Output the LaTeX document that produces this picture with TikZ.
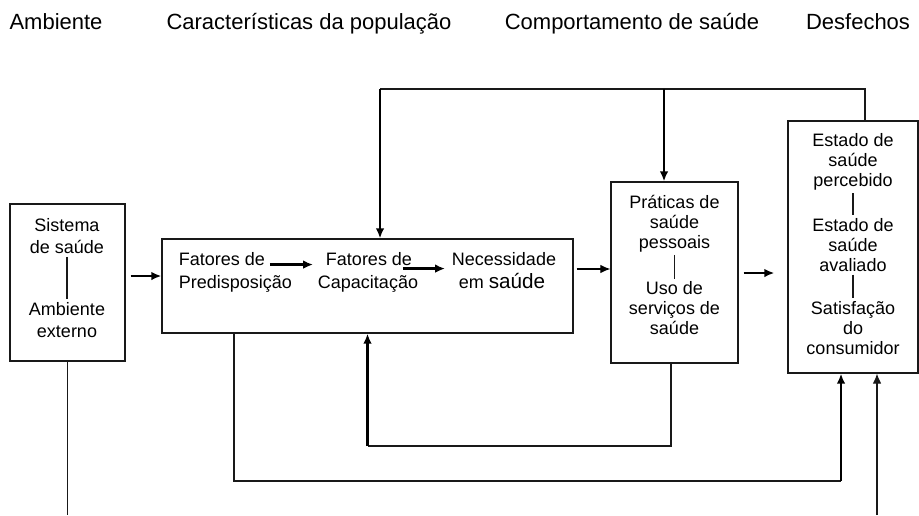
\documentclass[tikz,border=0pt]{standalone}
\usepackage{fontspec}
\setmainfont{Liberation Sans}
\usepackage{tikz}
\usetikzlibrary{arrows.meta, positioning, calc}
\definecolor{mygray}{RGB}{25,25,25}

\begin{document}
\begin{tikzpicture}[x=0.75pt, y=-0.75pt,
    caixa/.style={rectangle, draw=mygray, line width=1pt, inner sep=0pt},
    texto/.style={inner sep=2pt, align=center, font=\fontsize{13.5}{15}\selectfont},
    linha/.style={inner sep=2pt, anchor=base, font=\fontsize{13.5}{16}\selectfont},
    titulo/.style={inner sep=0pt, anchor=base, font=\fontsize{16.5}{20}\selectfont},
    fina/.style={draw=mygray, line width=0.8pt},
    seta/.style={-{Latex[length=7.5pt,width=6.5pt]}, line width=1.8pt},
    setafina/.style={-{Latex[length=7.5pt,width=6.5pt]}, fina}]
    \useasboundingbox (0,0) rectangle (919,515);

    % títulos
    \node[titulo] (t1) at (56,29) {Ambiente};
    \node[titulo] (t2) at (309,29) {Características da população};
    \node[titulo] (t3) at (632,29) {Comportamento de saúde};
    \node[titulo] (t4) at (858,29) {Desfechos};

    % caixas
    \node[caixa, minimum width=86.25pt, minimum height=117.75pt] (A) at (67.5,282.5) {};
    \node[caixa, minimum width=308.25pt, minimum height=70.5pt] (B) at (367.5,286) {};
    \node[caixa, minimum width=95.25pt, minimum height=135.75pt] (C) at (674.5,272.5) {};
    \node[caixa, minimum width=97.5pt, minimum height=189pt] (D) at (853,247) {};

    % ambiente
    \node[texto, font=\fontsize{13.5}{17}\selectfont] (a1) at (67,236) {Sistema\\de saúde};
    \node[texto, font=\fontsize{13.5}{17}\selectfont] (a2) at (67,320) {Ambiente\\externo};
    \draw[fina] (a1) -- (a2);

    % características
    \node[linha, anchor=base west] (f1a) at (176,265) {Fatores de};
    \node[linha, anchor=base west] (f1b) at (176,288) {Predisposição};
    \node[linha] (f2a) at (369,265) {Fatores de};
    \node[linha] (f2b) at (368,288) {Capacitação};
    \node[linha] (f3a) at (504,265) {Necessidade};
    \node[linha] (f3b) at (502,288) {em {\fontsize{15.5}{16}\selectfont saúde}};
    \draw[seta] ($(f1a.east)+(2,6)$) -- ($(f2a.west)+(-10,6)$);
    \draw[seta] ($(f2a.east)+(-12,10)$) -- ($(f3a.west)+(-4,10)$);

    % comportamento
    \node[texto] (c1) at (674.5,223.5) {Práticas de\\saúde\\pessoais};
    \node[texto] (c2) at (674.5,308.5) {Uso de\\serviços de\\saúde};
    \draw[fina] (c1) -- (c2);

    % desfechos
    \node[texto] (d1) at (853,162) {Estado de\\saúde\\percebido};
    \node[texto] (d2) at (853,245) {Estado de\\saúde\\avaliado};
    \node[texto] (d3) at (853,328) {Satisfação\\do\\consumidor};
    \draw[fina] (d1) -- (d2);
    \draw[fina] (d2) -- (d3);

    % setas principais
    \draw[seta] ($(A.east)+(5,-6.5)$) -- ($(B.west)+(0,-10)$);
    \draw[seta, line width=0.9pt] ($(B.east)+(3,-17)$) -- ($(C.west)+(0,-3.5)$);
    \draw[seta] ($(C.east)+(5,0.5)$) -- ($(D.west)+(-13,26)$);

    % retorno superior
    \coordinate (topo) at (380,89);
    \coordinate (ramo) at (664,89);
    \draw[fina] ($(D.north)+(12,0)$) |- (topo);
    \draw[seta] (topo) -- (B.north -| topo);
    \draw[seta] (ramo) -- (ramo |- C.north);

    % retornos inferiores
    \coordinate (voltaC) at (367.5,446);
    \draw[fina] ($(C.south)+(-3.5,0)$) |- (voltaC);
    \draw[seta] (voltaC) -- (B.south);
    \coordinate (voltaB) at (841,481);
    \draw[fina] ($(B.south)+(-133.5,0)$) |- (voltaB);
    \draw[seta] (voltaB) -- (voltaB |- D.south);

    % ligações ao ambiente
    \coordinate (baseA) at (67.5,515);
    \coordinate (baseD) at (877,515);
    \draw[fina] (A.south) -- (baseA);
    \draw[setafina] (baseD) -- (baseD |- D.south);
\end{tikzpicture}
\end{document}
